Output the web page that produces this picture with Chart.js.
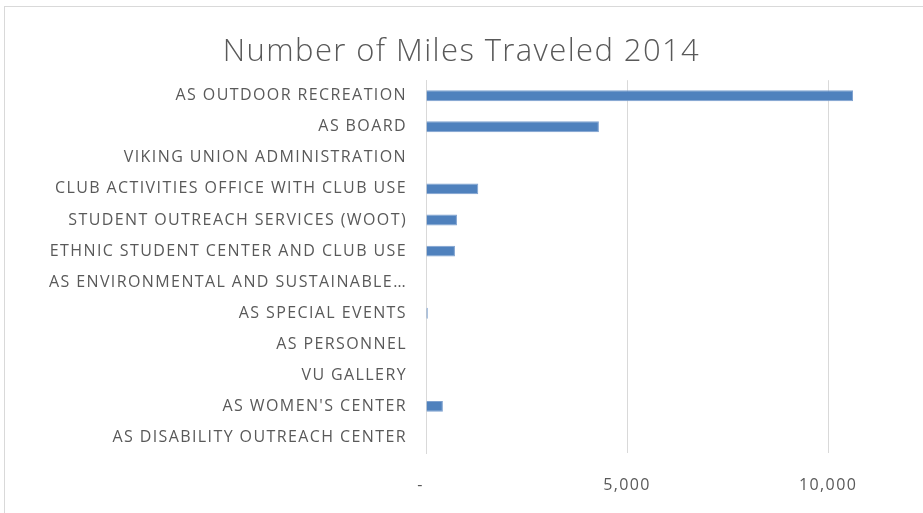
<!DOCTYPE html>
<html>
<head>
<meta charset="utf-8">
<script src="https://cdn.jsdelivr.net/npm/chart.js@4"></script>
<style>
  body { margin: 0; background: #fff; }
  #frame { position: absolute; left: 4px; top: 6px; width: 940px; height: 530px; border: 1px solid #d9d9d9; }
  #wrap { position: absolute; left: 0; top: 0; width: 923px; height: 513px; }
</style>
</head>
<body>
<div id="frame"></div>
<div id="wrap"><canvas id="c" width="923" height="513"></canvas></div>
<script>
const categories = [
    "AS OUTDOOR RECREATION",
    "AS BOARD",
    "VIKING UNION ADMINISTRATION",
    "CLUB ACTIVITIES OFFICE WITH CLUB USE",
    "STUDENT OUTREACH SERVICES (WOOT)",
    "ETHNIC STUDENT CENTER AND CLUB USE",
    "AS ENVIRONMENTAL AND SUSTAINABLE…",
    "AS SPECIAL EVENTS",
    "AS PERSONNEL",
    "VU GALLERY",
    "AS WOMEN'S CENTER",
    "AS DISABILITY OUTREACH CENTER"
];
const miles = [10620, 4300, 0, 1300, 770, 720, 0, 45, 0, 0, 420, 0];
const tickValues = [0, 5000, 10000];

// the original text is wider than Open Sans, so spread the letters a bit
const spacing = {
    id: 'spacing',
    beforeDraw(chart) { chart.ctx.letterSpacing = '1.4px'; },
    afterDraw(chart) { chart.ctx.letterSpacing = '0px'; }
};

const ctx = document.getElementById('c').getContext('2d');
const chart = new Chart(ctx, {
    "type": "bar",
    "data": {
        "labels": categories,
        "datasets": [{
            "label": "Miles",
            "data": miles,
            "backgroundColor": "#4f81bd",
            "borderColor": "#7ea1cf",
            "borderWidth": 1,
            "barPercentage": 0.35,
            "categoryPercentage": 1
        }]
    },
    "options": {
        "indexAxis": "y",
        "responsive": false,
        "animation": false,
        "layout": { "padding": 0 },
        "plugins": {
            "legend": { "display": false },
            "tooltip": { "enabled": false },
            "title": {
                "display": true,
                "text": "Number of Miles Traveled 2014",
                "color": "#595959",
                "font": { "family": "Open Sans", "size": 31, "weight": "300" },
                "padding": { "top": 34, "bottom": 9 }
            }
        },
        "scales": {
            "x": {
                "min": 0,
                "max": 12360,
                "afterBuildTicks": function (axis) {
                    axis.ticks = tickValues.map(v => ({ value: v }));
                },
                "afterFit": function (scale) { scale.height = 60; },
                "grid": { "color": "#d9d9d9", "drawTicks": false },
                "border": { "display": false },
                "ticks": {
                    "padding": 23,
                    "color": "#595959",
                    "font": { "family": "Open Sans", "size": 16 },
                    "callback": function (value) {
                        return value === 0 ? '-  ' : value.toLocaleString('en-US');
                    }
                }
            },
            "y": {
                "afterFit": function (scale) { scale.width = 426; },
                "grid": { "display": false, "drawTicks": false },
                "border": { "display": true, "color": "#d9d9d9", "width": 1 },
                "ticks": {
                    "padding": 19,
                    "color": "#595959",
                    "autoSkip": false,
                    "font": { "family": "Open Sans", "size": 16 }
                }
            }
        }
    },
    "plugins": [spacing]
});
</script>
</body>
</html>
